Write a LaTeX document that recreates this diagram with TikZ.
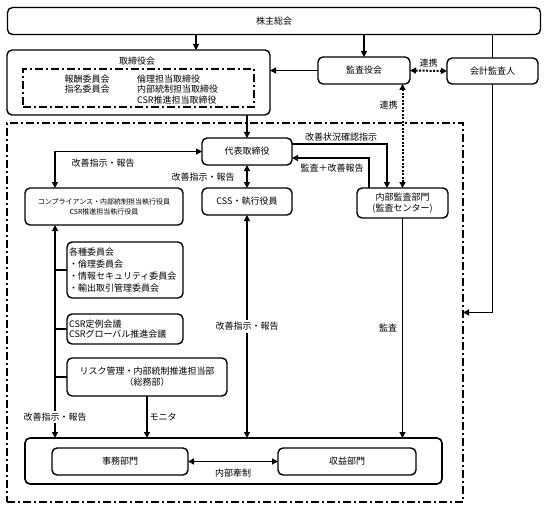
\documentclass[tikz,border=0pt]{standalone}
\usepackage{fontspec}
\setmainfont{Noto Sans CJK JP}
\usetikzlibrary{arrows.meta}

\begin{document}
\begin{tikzpicture}[x=1pt,y=-1pt,
	every node/.style={inner sep=1,outer sep=0,font=\fontsize{9}{10.5}\selectfont},
	box/.style={draw,rounded corners=5pt,line width=1.4pt,fill=white},
	ddline/.style={line width=1.2pt,dash pattern=on 8pt off 3pt on 2pt off 3pt},
	arr/.style={line width=1.2pt,-{Triangle[length=6pt,width=6pt]}},
	darr/.style={line width=1.2pt,{Triangle[length=6pt,width=6pt]}-{Triangle[length=6pt,width=6pt]}},
	dotarr/.style={line width=2pt,dash pattern=on 2pt off 1.5pt,{Triangle[length=6pt,width=6pt]}-{Triangle[length=6pt,width=6pt]}}]
	\useasboundingbox (0,0) rectangle (547,511);
	\node[draw,ddline,minimum width=456pt,minimum height=379pt] (shanai) at (235,312.5) {};
	\node[box,minimum width=533pt,minimum height=27pt] (kabu) at (274,21) {株主総会};
	\node[box,minimum width=263pt,minimum height=65pt] (tori) at (138.5,82.5) {};
	\node (torilbl) at (137,61) {取締役会};
	\node[draw,ddline,minimum width=231pt,minimum height=38pt] (iin) at (138.5,88) {};
	\node[anchor=north,align=center] (hoshu) at (87,73.5) {報酬委員会\\指名委員会};
	\node[anchor=north west,align=left] (tantou) at (136,73.5) {倫理担当取締役\\内部統制担当取締役\\CSR推進担当取締役};
	\node[box,minimum width=92pt,minimum height=27pt] (kansa) at (364,70.5) {監査役会};
	\node[box,minimum width=91pt,minimum height=26pt] (kaikei) at (492.5,71) {会計監査人};
	\node[box,minimum width=90pt,minimum height=27pt] (daihyo) at (247,151.5) {代表取締役};
	\node[box,minimum width=90pt,minimum height=27pt] (css) at (247,201.5) {CSS・執行役員};
	\node[box,minimum width=91pt,minimum height=30pt,align=center] (naibu) at (402.5,203) {内部監査部門\\(監査センター)};
	\node[box,minimum width=158pt,minimum height=37pt,align=center,font=\fontsize{7}{10}\selectfont] (comp) at (104,206.5) {コンプライアンス・内部統制担当執行役員\\CSR推進担当執行役員};
	\node[box,text width=112pt,inner sep=2pt,align=left,minimum height=56pt,font=\fontsize{9}{12}\selectfont] (kakushu) at (125,270) {各種委員会\\・倫理委員会\\・情報セキュリティ委員会\\・輸出取引管理委員会};
	\node[box,text width=112pt,inner sep=2pt,align=left,minimum height=30pt] (csr) at (125,329) {CSR定例会議\\CSRグローバル推進会議};
	\node[box,minimum width=160pt,minimum height=38pt,align=center,font=\fontsize{9}{11}\selectfont] (risk) at (147,377) {リスク管理・内部統制推進担当部\\（総務部）};
	\node[box,line width=1.6pt,minimum width=417pt,minimum height=46pt] (genba) at (233.5,461) {};
	\node[box,minimum width=136pt,minimum height=27pt] (jimu) at (120,461.5) {事務部門};
	\node[box,minimum width=138pt,minimum height=27pt] (shueki) at (347,461.5) {収益部門};
	\coordinate (lx) at (55,0);
	\coordinate (tx) at (196,0);
	\draw[arr] (kabu.south -| tx) -- (tori.north -| tx);
	\draw[arr] (kabu.south -| kansa.north) -- (kansa.north);
	\draw[arr] (kansa.west) -- (kansa.west -| tori.east);
	\draw[dotarr] (kansa.east) -- (kaikei.west) node[midway,above=3pt] (renkei1) {連携};
	\draw[line width=1.2pt] (kabu.south -| kaikei.north) -- (kaikei.north);
	\draw[arr] (kaikei.south) |- (shanai.east);
	\draw[dotarr] (naibu.north) -- (naibu.north |- kansa.south) node[pos=0.8,left=4pt] (renkei2) {連携};
	\draw[arr] (tori.south -| daihyo.north) -- (daihyo.north);
	\draw[darr] (comp.north -| lx) |- (daihyo.west);
	\node (kaizen1) at (103,163) {改善指示・報告};
	\draw[darr] (daihyo.south) -- (css.north);
	\node (kaizen2) at (203,177) {改善指示・報告};
	\draw[arr] ([yshift=7.5pt]daihyo.east) -| ([xshift=-15.5pt]naibu.north);
	\node (joukyou) at (341,137) {改善状況確認指示};
	\draw[arr] ([xshift=-33.5pt]naibu.north) |- ([yshift=-6.5pt]daihyo.east);
	\node (houkoku) at (332,168) {監査＋改善報告};
	\draw[arr] (naibu.south) -- (naibu.south |- genba.north);
	\node (kansalbl) at (388,328) {監査};
	\draw[darr] (css.south) -- (css.south |- genba.north) node[midway,fill=white,inner sep=2pt] (kaizen3) {改善指示・報告};
	\draw[darr] (comp.south -| lx) -- (lx |- genba.north) node[pos=0.9,fill=white,inner sep=2pt] (kaizen4) {改善指示・報告};
	\draw[line width=1.2pt] (lx |- kakushu.west) -- (kakushu.west);
	\draw[line width=1.2pt] (lx |- csr.west) -- (csr.west);
	\draw[line width=1.2pt] (lx |- risk.west) -- (risk.west);
	\draw[arr] (risk.south) -- (risk.south |- genba.north);
	\node (monita) at (163,417) {モニタ};
	\draw[darr] (jimu.east) -- (shueki.west);
	\node (kensei) at (233,473) {内部牽制};
\end{tikzpicture}
\end{document}
